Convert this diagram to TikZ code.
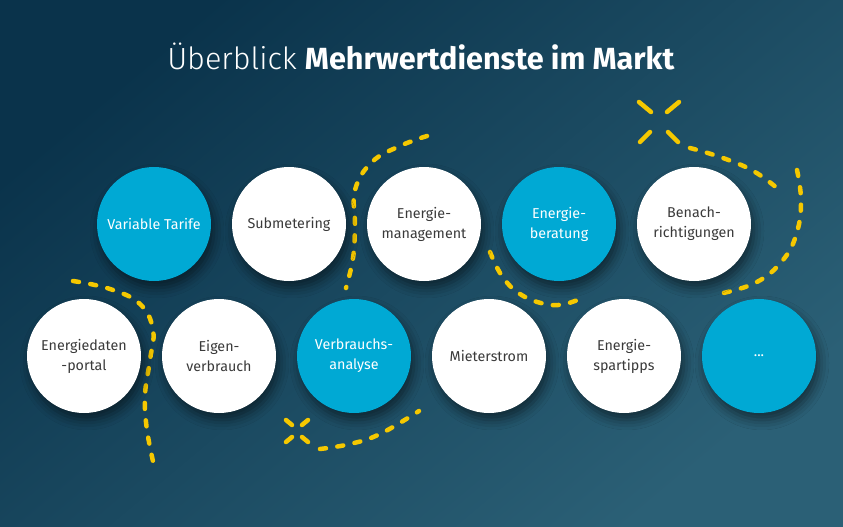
\documentclass[tikz,border=0pt]{standalone}
\usepackage{fontspec}
\setmainfont{Fira Sans}
\newfontfamily\titlelight{Fira Sans Light}
\usetikzlibrary{shadows.blur}
\definecolor{bgA}{HTML}{0A334B}
\definecolor{bgB}{HTML}{2B6076}
\definecolor{cblue}{HTML}{00A9D4}
\definecolor{cyel}{HTML}{F5C800}
\definecolor{ctext}{HTML}{3A3A3A}
\begin{document}
\begin{tikzpicture}[x=1pt,y=-1pt,
  bub/.style={circle, minimum size=114pt, inner sep=0pt, align=center,
    font=\fontsize{14.3}{20}\selectfont,
    blur shadow={shadow xshift=3pt, shadow yshift=-7pt, shadow blur radius=10pt, shadow opacity=50}},
  wbub/.style={bub, fill=white, text=ctext},
  bbub/.style={bub, fill=cblue, text=white},
  ydash/.style={draw=cyel, line width=4.5pt, line cap=round, dash pattern=on 6pt off 11.5pt},
  ystroke/.style={draw=cyel, line width=4.5pt, line cap=round}]
\useasboundingbox (0,0) rectangle (843,527);
\shade[top color=bgA, bottom color=bgB, shading angle=40] (0,0) rectangle (843,527);

% title
\node[anchor=base, text=white, font=\fontsize{30.6}{36}\selectfont] (title) at (421,70)
  {{\titlelight Überblick} \textbf{Mehrwertdienste im Markt}};

% dashed paths
\draw[ydash] plot[smooth, tension=0.7] coordinates {(427,136) (400,146) (372,162) (355,190) (355,225) (353,258) (346,288)};
\draw[ydash] plot[smooth, tension=0.7] coordinates {(490,252) (502,276) (520,294) (545,304) (565,304) (584,297)};
\draw[ydash] plot[smooth, tension=0.7] coordinates {(690,148) (723,158) (755,172) (783,193)};
\draw[ydash] plot[smooth, tension=0.7] coordinates {(797,170) (801,200) (797,232) (783,260) (755,283) (714,295)};
\draw[ydash] plot[smooth, tension=0.7] coordinates {(320,449) (350,444) (380,434) (419,411)};
\draw[ydash] plot[smooth, tension=0.7] coordinates {(73,281) (110,289) (140,304) (153,330) (150,360) (145,395) (147,430) (155,470)};

% X marks
\coordinate (xa) at (659,122);
\draw[ystroke] (xa) ++(-20,-20) -- ++(12,10);
\draw[ystroke] (xa) ++(20,-20) -- ++(-12,10);
\draw[ystroke] (xa) ++(-19,20) -- ++(10,-10);
\draw[ystroke] (xa) ++(19,20) -- ++(-10,-10);
\coordinate (xb) at (297,431);
\draw[ystroke] (xb) ++(-11,-11) -- ++(6,5);
\draw[ystroke] (xb) ++(11,-11) -- ++(-6,5);
\draw[ystroke] (xb) ++(-11,11) -- ++(6,-5);
\draw[ystroke] (xb) ++(11,11) -- ++(-6,-5);

% row 1
\node[bbub] (n1) at (154,224) {Variable Tarife};
\node[wbub] (n2) at (289,224) {Submetering};
\node[wbub] (n3) at (424,224) {Energie-\\management};
\node[bbub] (n4) at (559,224) {Energie-\\beratung};
\node[wbub] (n5) at (694,224) {Benach-\\richtigungen};
% row 2
\node[wbub] (m1) at (84,356) {Energiedaten\\-portal};
\node[wbub] (m2) at (219,356) {Eigen-\\verbrauch};
\node[bbub] (m3) at (354,356) {Verbrauchs-\\analyse};
\node[wbub] (m4) at (489,356) {Mieterstrom};
\node[wbub] (m5) at (624,356) {Energie-\\spartipps};
\node[bbub] (m6) at (759,356) {...};
\end{tikzpicture}
\end{document}
